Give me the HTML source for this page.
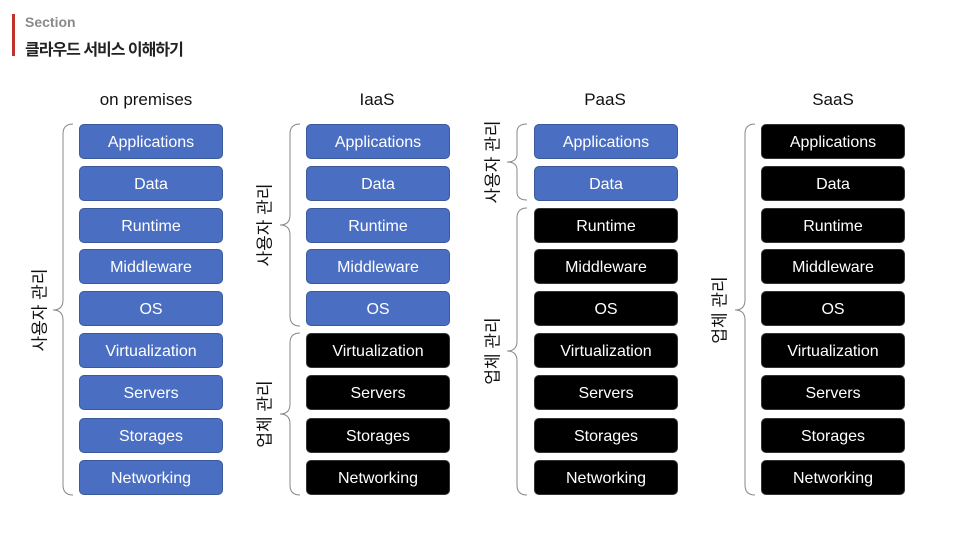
<!DOCTYPE html>
<html><head><meta charset="utf-8"><style>
body{margin:0;width:960px;height:540px;background:#fff;position:relative;overflow:hidden;font-family:"Liberation Sans","Noto Sans CJK KR",sans-serif}
.b{position:absolute;width:142px;height:33px;border-radius:5px;border:1px solid;color:#fff;font-size:16px;display:flex;align-items:center;justify-content:center;box-sizing:content-box;padding-top:2px;height:31px}
.u{background:#4a6fc2;border-color:#3a5a9c}
.v{background:#000;border-color:#333}
.h{position:absolute;font-size:17px;color:#111;width:160px;text-align:center;top:90px}
.r{position:absolute;font-size:17px;color:#111;transform:translate(-50%,-50%) rotate(-90deg);white-space:nowrap}
</style></head><body>
<div style="position:absolute;left:12px;top:14px;width:3px;height:42px;background:#c0312b"></div>
<div style="position:absolute;left:25px;top:14px;font-size:14px;font-weight:bold;color:#8a8a8a">Section</div>
<div style="position:absolute;left:25px;top:36px;font-size:16px;font-weight:bold;color:#222;letter-spacing:-1px">클라우드 서비스 이해하기</div>
<div class="h" style="left:66px">on premises</div>
<div class="h" style="left:297px">IaaS</div>
<div class="h" style="left:525px">PaaS</div>
<div class="h" style="left:753px">SaaS</div>
<svg width="960" height="540" style="position:absolute;left:0;top:0" fill="none" stroke="#888" stroke-width="1">
<path d="M73 124 Q63 124 63 134 L63 300 Q63 310 53 310 Q63 310 63 320 L63 485 Q63 495 73 495"/>
<path d="M300 124 Q290 124 290 134 L290 215 Q290 225 280 225 Q290 225 290 235 L290 316 Q290 326 300 326"/>
<path d="M300 333 Q290 333 290 343 L290 404 Q290 414 280 414 Q290 414 290 424 L290 485 Q290 495 300 495"/>
<path d="M527 124 Q517 124 517 132 L517 154 Q517 162 507 162 Q517 162 517 170 L517 192 Q517 200 527 200"/>
<path d="M527 208 Q517 208 517 218 L517 341 Q517 351 507 351 Q517 351 517 361 L517 485 Q517 495 527 495"/>
<path d="M755 124 Q745 124 745 134 L745 300 Q745 310 735 310 Q745 310 745 320 L745 485 Q745 495 755 495"/>
</svg>
<div class="r" style="left:38px;top:310px">사용자 관리</div>
<div class="r" style="left:263px;top:225px">사용자 관리</div>
<div class="r" style="left:263px;top:414px">업체 관리</div>
<div class="r" style="left:491px;top:162px">사용자 관리</div>
<div class="r" style="left:491px;top:351px">업체 관리</div>
<div class="r" style="left:718px;top:310px">업체 관리</div>
<div id="c"></div>
<script>
var names=["Applications","Data","Runtime","Middleware","OS","Virtualization","Servers","Storages","Networking"];
var tops=[124,166,208,249,291,333,375,418,460];
var xs=[79,306,534,761],cut=[9,5,2,0],h="";
for(var c=0;c<4;c++)for(var i=0;i<9;i++){h+='<div class="b '+(i<cut[c]?'u':'v')+'" style="left:'+xs[c]+'px;top:'+tops[i]+'px">'+names[i]+'</div>';}
document.getElementById("c").innerHTML=h;
</script>
</body></html>
